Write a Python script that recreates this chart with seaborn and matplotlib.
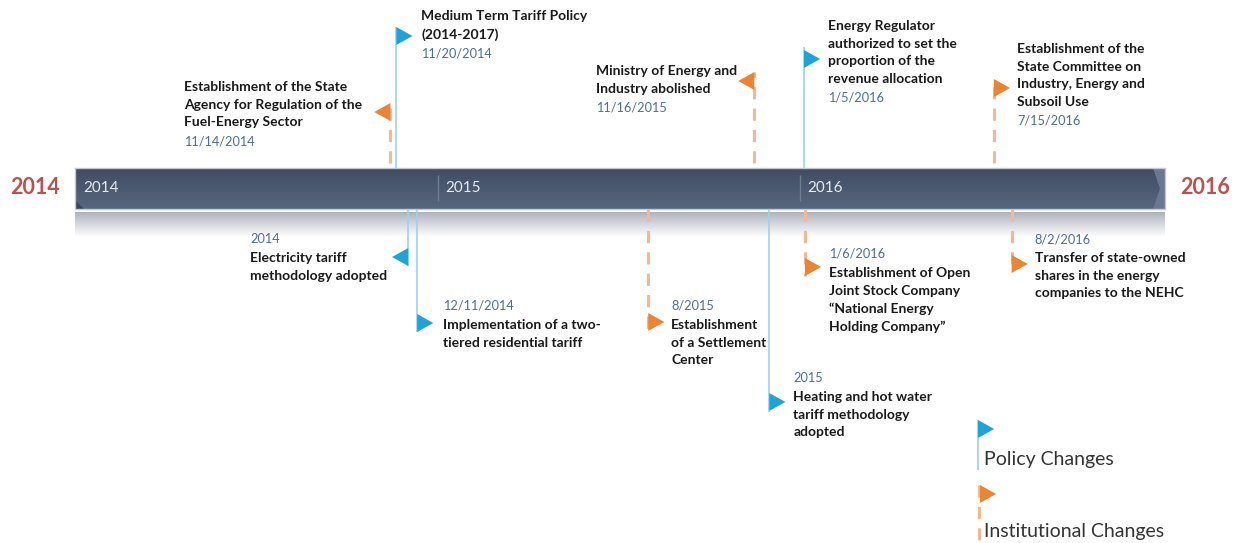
import matplotlib
matplotlib.use("Agg")
import matplotlib.pyplot as plt
import seaborn as sns
import numpy as np
import pandas as pd
from matplotlib.path import Path
from matplotlib.offsetbox import TextArea, VPacker, AnnotationBbox

# ---- data ----
event_dates = ["2014-11-14", "2014-11-20", "2015-11-16", "2016-01-05", "2016-07-15",
               "2014-12-02", "2014-12-11", "2015-08-01", "2015-12-01", "2016-01-06", "2016-08-02"]
event_date_labels = ["11/14/2014", "11/20/2014", "11/16/2015", "1/5/2016", "7/15/2016",
                     "2014", "12/11/2014", "8/2015", "2015", "1/6/2016", "8/2/2016"]
event_texts = [
    "Establishment of the State\nAgency for Regulation of the\nFuel-Energy Sector",
    "Medium Term Tariff Policy\n(2014-2017)",
    "Ministry of Energy and\nIndustry abolished",
    "Energy Regulator\nauthorized to set the\nproportion of the\nrevenue allocation",
    "Establishment of the\nState Committee on\nIndustry, Energy and\nSubsoil Use",
    "Electricity tariff\nmethodology adopted",
    "Implementation of a two-\ntiered residential tariff",
    "Establishment\nof a Settlement\nCenter",
    "Heating and hot water\ntariff methodology\nadopted",
    "Establishment of Open\nJoint Stock Company\n\u201cNational Energy\nHolding Company\u201d",
    "Transfer of state-owned\nshares in the energy\ncompanies to the NEHC",
]
event_kinds = ["Institutional", "Policy", "Institutional", "Policy", "Institutional",
               "Policy", "Policy", "Institutional", "Policy", "Institutional", "Institutional"]
timeline_years = [2014, 2015, 2016]
end_labels = ["2014", "2016"]
legend_kinds = ["Policy", "Institutional"]
legend_labels = ["Policy Changes", "Institutional Changes"]

# ---- layout (pixel rows, offsets in px) ----
side = ["up", "up", "up", "up", "up", "down", "down", "down", "down", "down", "down"]
flag_dir = ["left", "right", "left", "right", "right", "left", "right", "right", "right", "right", "right"]
flag_top = [103, 27, 72, 50, 79, 248, 314, 313, 393, 258, 255]
pole_end = [103, 27, 72, 47, 79, 266, 332, 331, 412, 276, 273]
text_dx = [-28, 25, -17, 24, 23, -21, 26, 23, 24, 24, 23]
text_top = [81, 10, 65, 20, 43, 233, 300, 300, 372, 248, 233]

W, H = 1237, 543
PX = 1 / 362  # one pixel in years
X0 = 2014 - 76 * PX
BAR_TOP, BAR_BOT = 168, 209
FLAG_H = 18

colors = {"Policy": "#1ba3da", "Institutional": "#ec8532"}
pole_colors = {"Policy": "#9ad3f0", "Institutional": "#f5b890"}
date_color = "#4f6d9a"

sns.set_theme(style="white")
plt.rcParams["font.family"] = ["Lato", "DejaVu Sans"]

df = pd.DataFrame({"date": pd.to_datetime(event_dates), "date_label": event_date_labels,
                   "text": event_texts, "kind": event_kinds, "side": side, "dir": flag_dir,
                   "flag_top": flag_top, "pole_end": pole_end, "dx": text_dx, "ty": text_top})
ndays = np.where(df["date"].dt.is_leap_year, 366, 365)
df["x"] = df["date"].dt.year + (df["date"].dt.dayofyear - 1) / ndays
df["flag_y"] = df["flag_top"] + FLAG_H / 2

fig = plt.figure(figsize=(W / 100, H / 100), dpi=100)
ax = fig.add_axes([0, 0, 1, 1])

# timeline bar with vertical gradient
bar_x0 = 2014 - PX
bar_x1 = X0 + 1165 * PX
grad = np.linspace(0, 1, 64).reshape(-1, 1)
bar_cmap = matplotlib.colors.LinearSegmentedColormap.from_list("bar", ["#404c62", "#57677f"])
ax.imshow(grad, cmap=bar_cmap, extent=(bar_x0, bar_x1, BAR_BOT, BAR_TOP), aspect="auto", zorder=1)
# bevelled right end and dark corner at the left
mid = (BAR_TOP + BAR_BOT) / 2
ax.fill([bar_x1 - 12 * PX, bar_x1, bar_x1, bar_x1 - 12 * PX, bar_x1 - 5 * PX],
        [BAR_TOP, BAR_TOP, BAR_BOT, BAR_BOT, mid], color="#6a7891", lw=0, zorder=2)
ax.fill([bar_x0, bar_x0 + 9 * PX, bar_x0], [BAR_BOT - 9, BAR_BOT, BAR_BOT], color="#3a4559", lw=0, zorder=2)
ax.plot([bar_x0, bar_x1, bar_x1, bar_x0, bar_x0], [BAR_TOP, BAR_TOP, BAR_BOT, BAR_BOT, BAR_TOP],
        color="#c3c8d0", lw=1, zorder=3)
# reflection under the bar
shade_cmap = matplotlib.colors.LinearSegmentedColormap.from_list("shade", ["#aeb3bc", "#ffffff"])
ax.imshow(grad, cmap=shade_cmap, extent=(bar_x0, bar_x1, 237, BAR_BOT + 3), aspect="auto", zorder=1)

# year ticks inside the bar
for yr in timeline_years:
    if yr > 2014:
        ax.vlines(yr, 175, 201, color="#6f7c92", lw=1, zorder=3)
    ax.text(yr + 7 * PX, 188, str(yr), color="#e6eaf0", fontsize=11, va="center", ha="left", zorder=3)

# big end labels
ax.text(X0 + 10 * PX, 188, end_labels[0], color="#c0504d", fontsize=15.5, fontweight="bold", va="center", ha="left")
ax.text(X0 + 1180 * PX, 188, end_labels[1], color="#c0504d", fontsize=15.5, fontweight="bold", va="center", ha="left")

# poles
for _, r in df.iterrows():
    start = BAR_TOP if r["side"] == "up" else BAR_BOT
    if r["kind"] == "Institutional":
        start = start - 5 if r["side"] == "up" else start
        ax.vlines(r["x"], start, r["pole_end"], color=pole_colors["Institutional"], lw=2.2,
                  linestyles=(0, (4, 3)), zorder=2)
    else:
        ax.vlines(r["x"], start, r["pole_end"], color=pole_colors["Policy"], lw=1.2, zorder=2)

# flags
right_flag = Path([(0, -1), (0, 1), (1.8, 0), (0, -1)], [Path.MOVETO, Path.LINETO, Path.LINETO, Path.CLOSEPOLY])
left_flag = Path([(0, -1), (0, 1), (-1.8, 0), (0, -1)], [Path.MOVETO, Path.LINETO, Path.LINETO, Path.CLOSEPOLY])
for d, m in [("right", right_flag), ("left", left_flag)]:
    sub = df[df["dir"] == d]
    sns.scatterplot(data=sub, x="x", y="flag_y", hue="kind", palette=colors, marker=m, s=540,
                    linewidth=0, edgecolor="none", legend=False, ax=ax, zorder=4)

# text blocks
lab_props = dict(color="#1a1a1a", fontsize=10, fontweight="bold", linespacing=1.56)
date_props = dict(color=date_color, fontsize=9.2)
for _, r in df.iterrows():
    lab = TextArea(r["text"], textprops=lab_props)
    dt = TextArea(r["date_label"], textprops=date_props)
    kids = [lab, dt] if r["side"] == "up" else [dt, lab]
    box = VPacker(children=kids, align="left", pad=0, sep=5)
    align = (1, 1) if r["dx"] < 0 else (0, 1)
    ab = AnnotationBbox(box, (r["x"] + r["dx"] * PX, r["ty"]), box_alignment=align,
                        frameon=False, pad=0, zorder=5)
    ax.add_artist(ab)

# legend
leg_x = X0 + 978 * PX
leg_flag_top = [420, 485]
leg_text_y = [460, 531]
leg_pole_end = [470, 540]
for k, lab, ft, ty, pe in zip(legend_kinds, legend_labels, leg_flag_top, leg_text_y, leg_pole_end):
    if k == "Policy":
        ax.vlines(leg_x, ft, pe, color=pole_colors[k], lw=1.2)
    else:
        ax.vlines(leg_x + PX, ft, pe, color=pole_colors[k], lw=2.2, linestyles=(0, (4, 3)))
    leg_df = pd.DataFrame({"x": [leg_x + (0 if k == "Policy" else 2 * PX)], "y": [ft + FLAG_H / 2], "kind": [k]})
    sns.scatterplot(data=leg_df, x="x", y="y", hue="kind", palette=colors, marker=right_flag, s=540,
                    linewidth=0, edgecolor="none", legend=False, ax=ax, zorder=4)
    ax.text(leg_x + 6 * PX, ty, lab, fontsize=14, color="#333333", va="center", ha="left")

ax.set_xlim(X0, X0 + W * PX)
ax.set_ylim(H, 0)
ax.set_axis_off()
fig.savefig("out.png", dpi=100)
